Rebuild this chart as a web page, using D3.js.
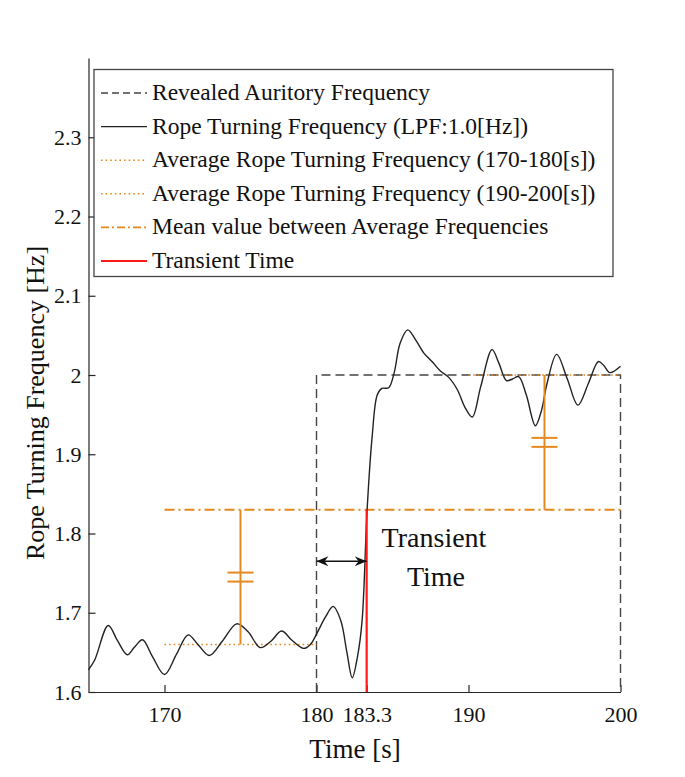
<!DOCTYPE html>
<html>
<head>
<meta charset="utf-8">
<script src="https://cdn.jsdelivr.net/npm/d3@7"></script>
<style>
  html, body { margin: 0; padding: 0; background: #fff; }
  svg { display: block; font-family: "Liberation Serif", "Times New Roman", serif; }
</style>
</head>
<body>
<svg id="chart" width="685" height="777"></svg>
<script>
// ---- data ----
const timeS = [165.0,165.4,166.3,166.9,167.55,168.0,168.55,169.2,170.0,170.8,171.55,172.2,172.95,173.8,174.75,175.5,176.3,177.0,177.7,178.4,179.15,179.6,180.0,180.6,181.1,181.6,182.0,182.35,182.7,183.0,183.33,183.66,184.0,184.3,184.75,185.1,185.5,186.0,186.5,187.05,187.6,188.15,188.7,189.25,189.8,190.25,190.8,191.55,192.0,192.5,192.9,193.3,193.8,194.4,194.8,195.15,195.8,196.5,197.2,197.9,198.55,198.9,199.3,200.0];
const ropeFreq = [1.628,1.640,1.684,1.665,1.647,1.656,1.666,1.645,1.622,1.648,1.672,1.660,1.646,1.664,1.686,1.676,1.656,1.664,1.677,1.665,1.655,1.660,1.673,1.695,1.708,1.690,1.650,1.618,1.645,1.690,1.830,1.922,1.975,1.983,1.984,2.002,2.040,2.057,2.045,2.028,2.017,2.005,1.997,1.982,1.958,1.947,1.985,2.032,2.015,1.993,1.995,1.998,1.975,1.936,1.955,1.988,2.026,1.995,1.962,1.990,2.017,2.012,2.003,2.011];
const revealedT = [180, 180, 200, 200];
const revealedF = [1.6, 2.0, 2.0, 1.6];
const avgWindow1 = [170, 180];
const avgWindow2 = [190, 200];
const avgFreq1 = 1.66;
const avgFreq2 = 2.0;
const meanFreq = 1.83;
const meanRange = [170, 200];
const transientT = 183.3;
const xTicks = [170, 180, 183.3, 190, 200];
const yTicks = [1.6, 1.7, 1.8, 1.9, 2.0, 2.1, 2.2, 2.3];
const legendLabels = [
  "Revealed Auritory Frequency",
  "Rope Turning Frequency (LPF:1.0[Hz])",
  "Average Rope Turning Frequency (170-180[s])",
  "Average Rope Turning Frequency (190-200[s])",
  "Mean value between Average Frequencies",
  "Transient Time"
];

// ---- styles ----
const ORANGE = "#e4891f";
const GRAY = "#444";
const RED = "#ff1a1a";
const CURVE = "#222";

const svg = d3.select("#chart");
const x = d3.scaleLinear().domain([165, 200]).range([88.5, 620.5]);
const y = d3.scaleLinear().domain([1.6, 2.4]).range([692, 58]);

// axes
const fmtX = d => (d === 183.3 ? "183.3" : d3.format("d")(d));
const fmtY = d => (d === 2 ? "2" : d3.format(".1f")(d));

const gx = svg.append("g").attr("transform", "translate(0,692)")
  .call(d3.axisBottom(x).tickValues(xTicks).tickFormat(fmtX).tickSizeInner(-7).tickSizeOuter(0).tickPadding(14));
const gy = svg.append("g").attr("transform", "translate(88.5,0)")
  .call(d3.axisLeft(y).tickValues(yTicks).tickFormat(fmtY).tickSizeInner(-7).tickSizeOuter(0).tickPadding(7));
[gx, gy].forEach(g => {
  g.select(".domain").attr("stroke", "#262626").attr("stroke-width", 1.2);
  g.selectAll(".tick line").attr("stroke", "#262626").attr("stroke-width", 1.2);
  g.selectAll(".tick text").attr("fill", "#111").style("font-size", "22px").style("font-family", "Liberation Serif");
});

// axis labels
svg.append("text").attr("x", 355).attr("y", 758).attr("text-anchor", "middle")
  .style("font-size", "27px").attr("fill", "#111").text("Time [s]");
svg.append("text").attr("transform", "translate(44,403) rotate(-90)").attr("text-anchor", "middle")
  .style("font-size", "26px").attr("fill", "#111").text("Rope Turning Frequency [Hz]");

// revealed auditory frequency (dashed)
const lineXY = d3.line().x(d => x(d[0])).y(d => y(d[1]));
svg.append("path").datum(revealedT.map((t, i) => [t, revealedF[i]]))
  .attr("d", lineXY).attr("fill", "none").attr("stroke", GRAY).attr("stroke-width", 1.4)
  .attr("stroke-dasharray", "9,5");

// average lines (dotted)
svg.append("path").datum(avgWindow1.map(t => [t, avgFreq1]))
  .attr("d", lineXY).attr("fill", "none").attr("stroke", ORANGE).attr("stroke-width", 1.6)
  .attr("stroke-dasharray", "1.6,3");
svg.append("path").datum(avgWindow2.map(t => [t, avgFreq2]))
  .attr("d", lineXY).attr("fill", "none").attr("stroke", ORANGE).attr("stroke-width", 1.6)
  .attr("stroke-dasharray", "1.6,3");

// mean line (dash-dot)
svg.append("path").datum(meanRange.map(t => [t, meanFreq]))
  .attr("d", lineXY).attr("fill", "none").attr("stroke", ORANGE).attr("stroke-width", 1.8)
  .attr("stroke-dasharray", "10,4,2,4");

// rope turning frequency curve
const curve = d3.line().x(d => x(d[0])).y(d => y(d[1])).curve(d3.curveCatmullRom.alpha(0.5));
svg.append("path").datum(timeS.map((t, i) => [t, ropeFreq[i]]))
  .attr("d", curve).attr("fill", "none").attr("stroke", CURVE).attr("stroke-width", 1.4);

// orange "difference" markers
function diffMarker(t, f0, f1) {
  const g = svg.append("g");
  g.append("line").attr("x1", x(t)).attr("x2", x(t)).attr("y1", y(f0)).attr("y2", y(f1))
    .attr("stroke", ORANGE).attr("stroke-width", 2);
  const mid = y((f0 + f1) / 2);
  [-4.5, 4.5].forEach(o => {
    g.append("line").attr("x1", x(t) - 13).attr("x2", x(t) + 13).attr("y1", mid + o).attr("y2", mid + o)
      .attr("stroke", ORANGE).attr("stroke-width", 2);
  });
}
diffMarker((avgWindow1[0] + avgWindow1[1]) / 2, avgFreq1, meanFreq);
diffMarker((avgWindow2[0] + avgWindow2[1]) / 2, meanFreq, avgFreq2);

// transient time red line
svg.append("line").attr("x1", x(transientT)).attr("x2", x(transientT))
  .attr("y1", y(1.6)).attr("y2", y(meanFreq)).attr("stroke", RED).attr("stroke-width", 2.2);

// double arrow between 180 and transient time
const defs = svg.append("defs");
["arrS", "arrE"].forEach((id, i) => {
  defs.append("marker").attr("id", id).attr("viewBox", "0 0 12 10")
    .attr("refX", i === 0 ? 0 : 12).attr("refY", 5).attr("markerWidth", 12).attr("markerHeight", 10)
    .attr("markerUnits", "userSpaceOnUse").attr("orient", "auto")
    .append("path").attr("d", i === 0 ? "M12,0 L0,5 L12,10 L8,5 Z" : "M0,0 L12,5 L0,10 L4,5 Z").attr("fill", "#111");
});
const arrowF = 1.765;
svg.append("line").attr("x1", x(180)).attr("x2", x(transientT)).attr("y1", y(arrowF)).attr("y2", y(arrowF))
  .attr("stroke", "#111").attr("stroke-width", 1.4)
  .attr("marker-start", "url(#arrS)").attr("marker-end", "url(#arrE)");

// annotation text
const ann = svg.append("text").attr("text-anchor", "middle").attr("fill", "#111").style("font-size", "28px");
ann.append("tspan").attr("x", 434).attr("y", 547).text("Transient");
ann.append("tspan").attr("x", 436).attr("y", 586).text("Time");

// legend
const lg = svg.append("g");
lg.append("rect").attr("x", 94).attr("y", 69.5).attr("width", 519).attr("height", 207)
  .attr("fill", "#fff").attr("stroke", "#444").attr("stroke-width", 1.3);
const legendStyles = [
  { stroke: GRAY, dash: "7,4", w: 1.4 },
  { stroke: CURVE, dash: null, w: 1.4 },
  { stroke: ORANGE, dash: "1.6,3", w: 1.6 },
  { stroke: ORANGE, dash: "1.6,3", w: 1.6 },
  { stroke: ORANGE, dash: "8,3,2,3", w: 1.8 },
  { stroke: RED, dash: null, w: 2.2 }
];
legendLabels.forEach((lab, i) => {
  const by = 100 + i * 33.6;
  const ly = by - 7;
  const st = legendStyles[i];
  const l = lg.append("line").attr("x1", 101).attr("x2", 147).attr("y1", ly).attr("y2", ly)
    .attr("stroke", st.stroke).attr("stroke-width", st.w);
  if (st.dash) l.attr("stroke-dasharray", st.dash);
  lg.append("text").attr("x", 152).attr("y", by).attr("fill", "#111").style("font-size", "23.5px").text(lab);
});
</script>
</body>
</html>
